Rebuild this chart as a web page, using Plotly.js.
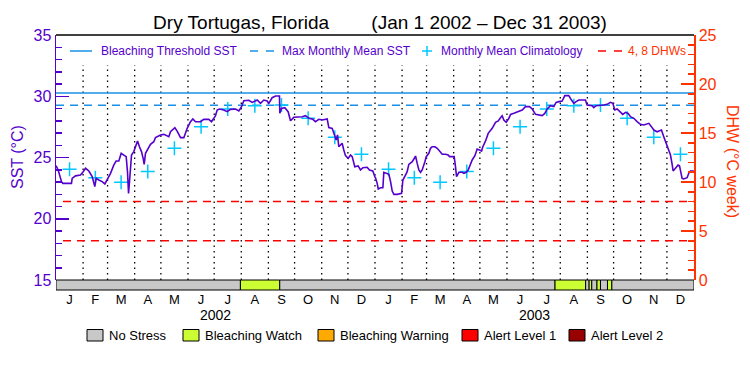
<!DOCTYPE html>
<html><head><meta charset="utf-8">
<script src="https://cdn.plot.ly/plotly-3.0.1.min.js"></script>
<style>html,body{margin:0;padding:0;background:#fff}</style>
</head><body><div id="chart" style="width:750px;height:375px"></div>
<script>
// ---------------- DATA ----------------
const chartTitle = "Dry Tortugas, Florida\u00a0\u00a0\u00a0\u00a0\u00a0\u00a0\u00a0\u00a0(Jan 1 2002 \u2013 Dec 31 2003)";
const years = [2002, 2003];
const monthLetters = ["J","F","M","A","M","J","J","A","S","O","N","D"];
const monthLengths = [31,28,31,30,31,30,31,31,30,31,30,31];

// SST: day offset from Jan 1 2002, and SST (deg C)
const sstDay = [0,2.5,6.3,7.8,17.7,18.5,22.3,28,30.7,33.8,37.6,41.4,44.4,46,49,52.8,55.9,58.5,62.4,66.2,68.8,71.9,74.6,77.6,80.3,81.8,83,84.1,85.2,86.4,89,91,93.3,95.5,97.8,99.7,100.9,102.4,104.3,108.1,111.9,113.8,119.6,123.4,129.1,131,136,138.6,142.5,146.3,150.1,153.9,156.6,159.6,165.3,169.1,174.9,177.9,180.6,182.5,
184.4,187.1,192,195.8,199.7,205.4,209.2,212.3,214.9,220.6,224.5,227.5,230.2,234,237.8,241.6,243.5,247.3,251.2,255.7,256.1,258,261.8,265.6,268.3,272.1,277.9,281.7,285.5,289.3,293.9,296.9,300.7,304.5,310.3,312.2,316,318.7,320.6,322.1,323.6,325.5,327.4,329.3,331.2,334.3,337,338.9,341.9,345.7,348.4,351.1,356,358.7,362.5,364.8,
365.6,367.5,368.7,371.3,374,375.1,378.9,380.9,382.8,384.7,386.6,390.4,395.4,396.9,399.9,401.8,403.7,407.6,409.5,411.4,413.3,415.2,417.1,419,422.1,423.6,426.6,428.5,430.4,433.5,436.2,438.8,441.9,445.7,448.7,450.3,452.6,454.1,455.6,457.1,458.3,461,464.8,466.7,469.3,471.6,474.3,476.2,479.3,481.9,484.6,486.9,488.4,491.5,494.5,499.1,502.9,506,508.6,510.5,512.4,515.1,518.2,520.1,523.9,527.7,533.4,537.2,541.8,544.9,546.8,548.7,
556.2,559.3,562,565.8,569.6,572.2,575.3,579.1,582.2,586.7,589.8,592.5,595.1,598.2,605.8,607.7,613.4,615.3,618,623,626.8,630.6,634.4,637.1,639.4,642,644.7,648.5,651.6,654.6,657.3,661.1,664.9,668.7,672.6,675.2,678.3,681.3,684,687.8,690.5,692.8,695.4,698.1,701.2,703.1,705,706.1,708.8,711.8,713.4,714.9,716.4,718.3,722.1,724,725.9,729.8];
const sstValue = [24.33,23.98,23.03,22.89,22.89,23.3,23.5,23.57,23.79,24.12,23.9,23.44,22.62,23.3,23.16,23.03,22.84,23.16,23.71,24.39,24.71,24.71,25.34,25.2,25.07,23.84,22.07,23.03,24.12,25.2,25.48,25.88,26.35,25.88,25.48,24.93,24.44,25.34,25.61,26.07,26.29,26.62,26.84,26.89,26.7,27.11,27.43,27.16,26.62,26.62,27.38,27.92,28.14,27.92,27.92,28.11,28.11,27.92,28.2,28.42,
28.88,28.96,28.88,28.74,28.93,28.96,28.8,29.15,29.64,29.67,29.5,29.61,29.69,29.42,29.69,29.61,29.42,29.88,30.02,30.02,28.61,29.01,29.07,28.74,28.0,28.28,28.28,28.33,28.41,28.2,28.12,27.93,28.12,28.06,28.14,27.44,27.38,26.84,26.43,26.84,25.88,26.02,26.16,25.61,25.15,24.93,25.2,25.07,24.25,24.31,23.98,24.17,24.2,23.98,23.9,23.44,
23.35,22.89,22.43,22.53,22.53,23.79,23.71,23.63,23.03,22.26,21.99,21.99,22.07,23.16,23.57,23.84,24.44,24.66,24.88,25.12,24.52,23.98,23.79,23.98,24.66,25.07,25.34,25.75,25.88,25.88,25.75,25.48,25.26,25.26,25.2,25.07,25.07,25.12,25.07,24.25,23.43,23.79,23.79,23.71,23.79,23.98,24.52,24.8,25.15,25.69,25.61,25.53,25.88,26.35,26.97,27.38,27.87,27.98,28.25,28.41,28.06,27.87,28.2,28.52,28.61,28.74,28.88,29.15,29.15,28.96,28.74,28.52,
28.42,28.6,28.96,29.23,29.15,29.5,29.56,29.61,30.05,30.05,29.69,29.42,29.56,29.69,29.69,29.29,29.23,29.07,29.23,29.23,29.29,29.34,29.5,29.42,28.88,28.96,28.74,28.52,28.69,28.6,28.33,28.2,27.93,27.71,27.66,27.71,27.79,27.52,27.24,27.1,27.16,27.24,26.7,26.16,25.61,25.2,24.44,23.9,24.12,24.39,24.33,23.84,23.3,23.25,23.35,23.71,23.9,23.9];

// Monthly mean climatology (Jan..Dec)
const climatology = [24.05,23.35,22.97,23.85,25.75,27.52,28.96,29.23,29.29,28.2,26.65,25.26];
const maxMonthlyMean = 29.26;
const bleachingThreshold = 30.26;
const dhwLevels = [4, 8];

// Stress level bar (day ranges)
const statusStart = [0,211,256,571,606,610,613,619,623,631,636];
const statusEnd   = [211,256,571,606,610,613,619,623,631,636,730];
const statusLevel = [0,1,0,1,0,1,0,1,0,1,0];
const statusNames  = ["No Stress","Bleaching Watch","Bleaching Warning","Alert Level 1","Alert Level 2"];
const statusColors = ["#c8c8c8","#ccff33","#ffaa00","#ff0000","#990000"];

const legendLabels = ["Bleaching Threshold SST","Max Monthly Mean SST","Monthly Mean Climatology","4, 8 DHWs"];

// ---------------- STYLE / LAYOUT ----------------
const PURPLE = "#5500cc", ORANGE = "#ff3300", BLUE = "#1a90e6", CYAN = "#00c8ff", RED = "#ff0000";
const FONT = "Liberation Sans, Arial, sans-serif";
const W = 750, H = 375, L = 56, R = 694, T = 35, B = 280;
const px = p => (p - L) / (R - L);
const py = p => (B - p) / (B - T);

// month geometry
const monthStarts = [], monthMids = [], monthText = [];
let acc = 0;
years.forEach(() => monthLengths.forEach((len, i) => {
  monthStarts.push(acc); monthMids.push(acc + len / 2); monthText.push(monthLetters[i]); acc += len;
}));
const totalDays = acc;

const climX = [], climY = [];
years.forEach((y, yi) => climatology.forEach((v, i) => { climX.push(monthMids[yi * 12 + i]); climY.push(v); }));

const traces = [
  {x: [0, totalDays], y: [bleachingThreshold, bleachingThreshold], mode: "lines", line: {color: BLUE, width: 1.5}, yaxis: "y"},
  {x: [0, totalDays], y: [maxMonthlyMean, maxMonthlyMean], mode: "lines", line: {color: BLUE, width: 1.5, dash: "8px,6px"}, yaxis: "y"},
  {x: climX, y: climY, mode: "markers", marker: {symbol: "cross-thin", size: 10, line: {color: CYAN, width: 1.5}}, yaxis: "y"},
  {x: sstDay, y: sstValue, mode: "lines", line: {color: PURPLE, width: 1.6}, yaxis: "y"}
];
dhwLevels.forEach(v => traces.push({x: [8, totalDays], y: [v, v], mode: "lines", line: {color: RED, width: 1.5, dash: "8px,6px"}, yaxis: "y2"}));

const shapes = [];
// month dotted lines
monthStarts.slice(1).forEach(m => shapes.push({type: "line", xref: "x", yref: "paper", x0: m, x1: m, y0: 0, y1: py(65), line: {color: "#000", width: 1.3, dash: "1.5px,4px"}, layer: "below"}));
// top frame
shapes.push({type: "line", xref: "paper", yref: "paper", x0: 0, x1: 1, y0: 1, y1: 1, line: {color: "#000", width: 1.5}});
// status bar
statusStart.forEach((s, i) => shapes.push({type: "rect", xref: "x", yref: "paper", x0: s, x1: statusEnd[i], y0: py(290), y1: py(280), fillcolor: statusColors[statusLevel[i]], line: {color: "#000", width: 1}}));

// top legend symbols
const LY = 51;
shapes.push({type: "line", xref: "paper", yref: "paper", x0: px(70), x1: px(92), y0: py(LY), y1: py(LY), line: {color: BLUE, width: 1.5}});
[[250,258],[266,274]].forEach(s => shapes.push({type: "line", xref: "paper", yref: "paper", x0: px(s[0]), x1: px(s[1]), y0: py(LY), y1: py(LY), line: {color: BLUE, width: 1.5}}));
shapes.push({type: "line", xref: "paper", yref: "paper", x0: px(422), x1: px(432), y0: py(LY), y1: py(LY), line: {color: CYAN, width: 1.5}});
shapes.push({type: "line", xref: "paper", yref: "paper", x0: px(427), x1: px(427), y0: py(LY - 5), y1: py(LY + 5), line: {color: CYAN, width: 1.5}});
[[598,606],[614,622]].forEach(s => shapes.push({type: "line", xref: "paper", yref: "paper", x0: px(s[0]), x1: px(s[1]), y0: py(LY), y1: py(LY), line: {color: RED, width: 1.5}}));

const annotations = [];
const legX = [99, 280, 439, 626];
const legC = [PURPLE, PURPLE, PURPLE, ORANGE];
legendLabels.forEach((t, i) => annotations.push({text: t, xref: "paper", yref: "paper", x: px(legX[i]), y: py(LY), xanchor: "left", yanchor: "middle", showarrow: false, font: {family: FONT, size: 12, color: legC[i]}}));

// bottom legend
const boxX = [87, 183, 318, 462, 569];
statusNames.forEach((n, i) => {
  shapes.push({type: "rect", xref: "paper", yref: "paper", x0: px(boxX[i]), x1: px(boxX[i] + 16), y0: py(341), y1: py(329.5), fillcolor: statusColors[i], line: {color: "#000", width: 1}});
  annotations.push({text: n, xref: "paper", yref: "paper", x: px(boxX[i] + 20), y: py(335), xanchor: "left", yanchor: "middle", showarrow: false, font: {family: FONT, size: 13, color: "#000"}});
});
// year labels
years.forEach((y, i) => annotations.push({text: String(y), xref: "x", yref: "paper", x: monthStarts[i * 12] + 182.5, y: py(315), xanchor: "center", yanchor: "middle", showarrow: false, font: {family: FONT, size: 14, color: "#000"}}));
// axis titles
annotations.push({text: "SST (\u00b0C)", xref: "paper", yref: "paper", x: px(17), y: py(157), textangle: -90, xanchor: "center", yanchor: "middle", showarrow: false, font: {family: FONT, size: 16, color: PURPLE}});
annotations.push({text: "DHW (\u00b0C week)", xref: "paper", yref: "paper", x: px(733), y: py(161), textangle: 90, xanchor: "center", yanchor: "middle", showarrow: false, font: {family: FONT, size: 16, color: ORANGE}});

const layout = {
  width: W, height: H, autosize: false,
  margin: {l: L, r: W - R, t: T, b: H - B, pad: 0, autoexpand: false},
  paper_bgcolor: "#fff", plot_bgcolor: "#fff",
  showlegend: false, hovermode: false,
  title: {text: chartTitle, x: 380 / W, xanchor: "center", y: 1 - 22 / H, yanchor: "middle", font: {family: FONT, size: 19, color: "#000"}},
  xaxis: {range: [0, totalDays], tickmode: "array", tickvals: monthMids, ticktext: monthText, ticks: "", showline: false, showgrid: false, zeroline: false,
          tickfont: {family: FONT, size: 13, color: "#000"}, ticklabelstandoff: 10, fixedrange: true},
  yaxis: {range: [15, 35], tick0: 15, dtick: 5, showline: true, linecolor: PURPLE, linewidth: 1.5, ticks: "inside", ticklen: 13, tickwidth: 1.5, tickcolor: PURPLE,
          minor: {ticks: "inside", ticklen: 6, dtick: 1, tickcolor: PURPLE, tickwidth: 1.5, showgrid: false},
          tickfont: {family: FONT, size: 16, color: PURPLE}, showgrid: false, zeroline: false, fixedrange: true},
  yaxis2: {range: [0, 25], tick0: 0, dtick: 5, overlaying: "y", side: "right", showline: true, linecolor: ORANGE, linewidth: 1.5, ticks: "inside", ticklen: 13, tickwidth: 1.5, tickcolor: ORANGE,
          minor: {ticks: "inside", ticklen: 6, dtick: 1, tickcolor: ORANGE, tickwidth: 1.5, showgrid: false},
          tickfont: {family: FONT, size: 16, color: ORANGE}, showgrid: false, zeroline: false, fixedrange: true},
  shapes: shapes, annotations: annotations
};
Plotly.newPlot("chart", traces, layout, {staticPlot: true, displayModeBar: false});
</script></body></html>
